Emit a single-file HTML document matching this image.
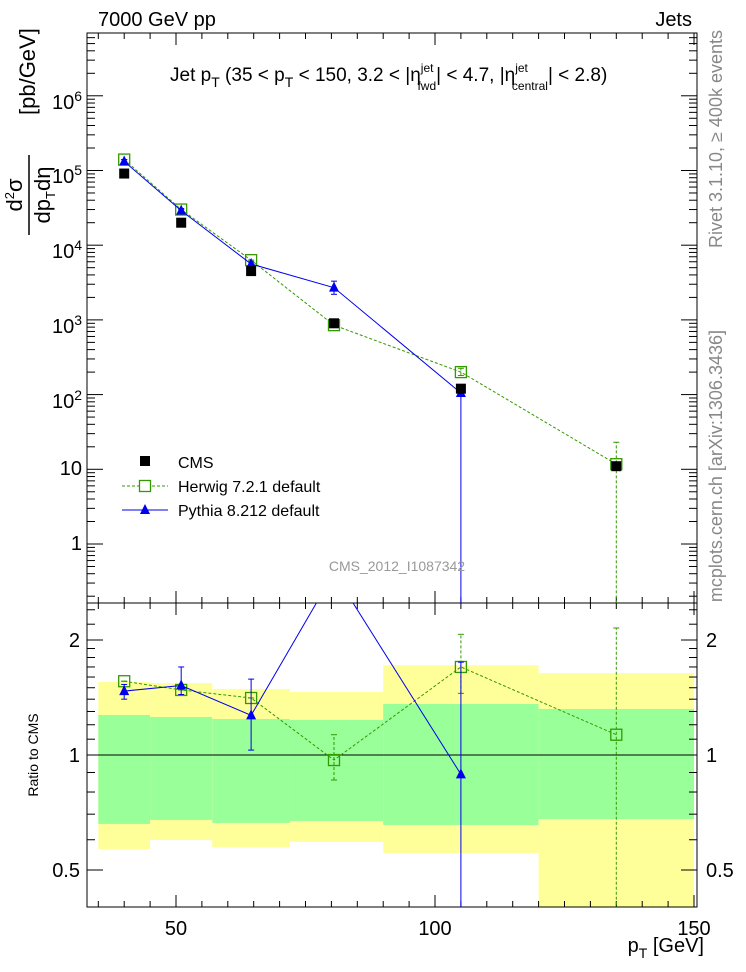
<!DOCTYPE html>
<html><head><meta charset="utf-8"><style>
body{margin:0;background:#fff;}
svg{display:block;font-family:"Liberation Sans",sans-serif;}
</style></head><body>
<svg id="c" width="746" height="972" viewBox="0 0 746 972"></svg>
<script>
const binEdges=[35,45,57,72,90,120,150];
const xCenters=[40,51,64.5,80.5,105,135];
const cmsVals=[91000,20000,4500,900,120,11];
const herwigVals=[140000,30000,6300,850,200,11.7];
const herwigErrLo=[140000,30000,6300,850,180,0.01];
const herwigErrHi=[140000,30000,6300,850,225,23];
const pythiaVals=[132000,29000,5600,2700,105,null];
const pythiaErrLo=[125000,28000,5200,2200,0.01,null];
const pythiaErrHi=[140000,31000,6000,3300,110,null];
const herwigRatio=[1.56,1.48,1.41,0.97,1.70,1.13];
const herwigRatioLo=[1.56,1.48,1.41,0.86,1.45,0.3];
const herwigRatioHi=[1.56,1.48,1.41,1.13,2.07,2.15];
const pythiaRatio=[1.47,1.52,1.27,3.0,0.89,null];
const pythiaRatioLo=[1.40,1.44,1.03,3.0,0.3,null];
const pythiaRatioHi=[1.53,1.70,1.58,3.0,1.75,null];
const greenHi=[1.273,1.257,1.242,1.235,1.36,1.32];
const greenLo=[0.66,0.676,0.664,0.672,0.656,0.68];
const yellowHi=[1.553,1.543,1.489,1.462,1.719,1.639];
const yellowLo=[0.567,0.599,0.574,0.592,0.554,0.3];
const xTicks=[50,100,150];
const yMainTicks=[1,10,100,1000,10000,100000,1000000];
const yMainLabels=["1","10","10<sup>2</sup>","10<sup>3</sup>","10<sup>4</sup>","10<sup>5</sup>","10<sup>6</sup>"];
const yRatioTicks=[0.5,1,2];

const L=87,R=697,T=33,MB=603,RB=907;
const X=v=>176+(v-50)*5.18;
const Y=v=>MB-(Math.log10(v)+0.79)*74.7;
const YR=v=>755-Math.log10(v)*382;
const NS="http://www.w3.org/2000/svg";
const svg=document.getElementById('c');
function mk(tag,attrs,parent){const e=document.createElementNS(NS,tag);for(const k in attrs)e.setAttribute(k,attrs[k]);(parent||svg).appendChild(e);return e;}
function txt(x,y,s,size,anchor,fill,parent){const e=mk('text',{x:x,y:y,'font-size':size,'text-anchor':anchor||'start',fill:fill||'#000'},parent);e.innerHTML=s;return e;}

const bands=mk('g',{});


const clipR=mk('clipPath',{id:'cr'});mk('rect',{x:L,y:MB,width:R-L,height:RB-MB},clipR);
const clipM=mk('clipPath',{id:'cm'});mk('rect',{x:L,y:T,width:R-L,height:MB-T},clipM);
bands.setAttribute('clip-path','url(#cr)');
for(let i=0;i<6;i++){
  const x1=X(binEdges[i]),x2=X(binEdges[i+1]);
  const y=mk('rect',{x:x1,y:YR(yellowHi[i]),width:x2-x1,height:YR(yellowLo[i])-YR(yellowHi[i]),fill:'#ffff99'},bands);
  
  
  const g=mk('rect',{x:x1,y:YR(greenHi[i]),width:x2-x1,height:YR(greenLo[i])-YR(greenHi[i]),fill:'#99ff99'},bands);
  
  
}
mk('line',{x1:L,x2:R,y1:YR(1),y2:YR(1),stroke:'#000','stroke-width':1});

mk('rect',{x:L,y:T,width:R-L,height:MB-T,fill:'none',stroke:'#000','stroke-width':1});
mk('rect',{x:L,y:MB,width:R-L,height:RB-MB,fill:'none',stroke:'#000','stroke-width':1});

for(let v=35;v<=150;v+=5){
  const big=v%50===0,len=big?12:6,x=X(v);
  for(const [yb,dir] of [[MB,-1],[T,1],[RB,-1],[MB,1]])
    mk('line',{x1:x,x2:x,y1:yb,y2:yb+dir*len,stroke:'#000','stroke-width':1});
}
xTicks.forEach(v=>{const t=txt(X(v),935,String(v),20,'middle');});
for(let d=-1;d<=6;d++)for(let m=1;m<=9;m++){
  const v=m*Math.pow(10,d),y=Y(v);if(y<T||y>MB)continue;
  const len=m===1?16:8;
  mk('line',{x1:L,x2:L+len,y1:y,y2:y,stroke:'#000'});
  mk('line',{x1:R,x2:R-len,y1:y,y2:y,stroke:'#000'});
}
yMainTicks.forEach((v,i)=>{
  const t=mk('foreignObject',{x:20,y:Y(v)-14,width:62,height:30});
  
  
  t.innerHTML='<div xmlns="http://www.w3.org/1999/xhtml" style="font:20px \'Liberation Sans\',sans-serif;text-align:right;line-height:28px">'+yMainLabels[i].replace('<sup>','<sup style="font-size:14px;vertical-align:8px">')+'</div>';
});
const rminor=[0.4,0.5,0.6,0.7,0.8,0.9,1,1.1,1.2,1.3,1.4,1.5,1.6,1.7,1.8,1.9,2,2.2,2.4];
rminor.forEach(v=>{const y=YR(v);const len=(v===0.5||v===1||v===2)?16:8;
  mk('line',{x1:L,x2:L+len,y1:y,y2:y,stroke:'#000'});mk('line',{x1:R,x2:R-len,y1:y,y2:y,stroke:'#000'});});
yRatioTicks.forEach(v=>{
  const a=txt(80,YR(v)+7,String(v),20,'end');
  const b=txt(706,YR(v)+7,String(v),20,'start');
});

const gm=mk('g',{'clip-path':'url(#cm)'});
function series(vals,lo,hi,yf,color,dash,marker,parent,name){
  const g=mk('g',{},parent);
  
  
  let pts=[];
  vals.forEach((v,i)=>{if(v==null)return;pts.push(X(xCenters[i])+','+yf(v));});
  if(color!=='#000')mk('polyline',{points:pts.join(' '),fill:'none',stroke:color,'stroke-width':1,'stroke-dasharray':dash||'none'},g);
  vals.forEach((v,i)=>{if(v==null)return;const x=X(xCenters[i]),y=yf(v);
    if(lo&&hi&&lo[i]!=null){mk('line',{x1:x,x2:x,y1:yf(lo[i]),y2:yf(hi[i]),stroke:color,'stroke-dasharray':dash||'none'},g);
      [lo[i],hi[i]].forEach(e=>mk('line',{x1:x-3,x2:x+3,y1:yf(e),y2:yf(e),stroke:color},g));}
    let m;
    if(marker==='sq')m=mk('rect',{x:x-5,y:y-5,width:10,height:10,fill:'#000'},g);
    else if(marker==='osq')m=mk('rect',{x:x-5.5,y:y-5.5,width:11,height:11,fill:'none',stroke:color,'stroke-width':1.3},g);
    else m=mk('polygon',{points:`${x},${y-6} ${x-5},${y+4} ${x+5},${y+4}`,fill:color},g);
    
    
  });
}
series(herwigVals,herwigErrLo,herwigErrHi,Y,'#339900','3,2','osq',gm,'herwig-series');
series(pythiaVals,pythiaErrLo,pythiaErrHi,Y,'#0000ee',null,'tri',gm,'pythia-series');
series(cmsVals,null,null,Y,'#000',null,'sq',gm,'cms-series');
const gr=mk('g',{'clip-path':'url(#cr)'});
series(herwigRatio,herwigRatioLo,herwigRatioHi,YR,'#339900','3,2','osq',gr,'herwig-ratio-series');
series(pythiaRatio,pythiaRatioLo,pythiaRatioHi,YR,'#0000ee',null,'tri',gr,'pythia-ratio-series');

const lg=mk('g',{});


mk('rect',{x:140,y:456,width:10,height:10,fill:'#000'},lg);
txt(178,468,'CMS',16,'start','#000',lg);
mk('line',{x1:122,x2:168,y1:486,y2:486,stroke:'#339900','stroke-dasharray':'3,2'},lg);
mk('rect',{x:139.5,y:480.5,width:11,height:11,fill:'#fff',stroke:'#339900','stroke-width':1.3},lg);
txt(178,492,'Herwig 7.2.1 default',16,'start','#000',lg);
mk('line',{x1:122,x2:168,y1:510,y2:510,stroke:'#0000ee'},lg);
mk('polygon',{points:'145,504 140,514 150,514',fill:'#0000ee'},lg);
txt(178,516,'Pythia 8.212 default',16,'start','#000',lg);

let t;
t=txt(98,26,'7000 GeV pp',20);
t=txt(692,26,'Jets',20,'end');
t=txt(170,81,'Jet p<tspan font-size="14" dy="6">T</tspan><tspan dy="-6"> (35 &lt; p</tspan><tspan font-size="14" dy="6">T</tspan><tspan dy="-6"> &lt; 150, 3.2 &lt; |η</tspan><tspan font-size="12" dy="-9">jet</tspan><tspan font-size="12" dx="-16" dy="18">fwd</tspan><tspan dy="-9">| &lt; 4.7, |η</tspan><tspan font-size="12" dy="-9">jet</tspan><tspan font-size="12" dx="-16" dy="18">central</tspan><tspan dy="-9">| &lt; 2.8)</tspan>',19);

t=txt(397,571,'CMS_2012_I1087342',14,'middle','#999');
t=txt(0,0,'Rivet 3.1.10, ≥ 400k events',18,'end','#888');t.setAttribute('transform','translate(722,30) rotate(-90)');
t=txt(0,0,'mcplots.cern.ch [arXiv:1306.3436]',18,'end','#888');t.setAttribute('transform','translate(722,330) rotate(-90)');
t=txt(0,0,'Ratio to CMS',14,'middle');t.setAttribute('transform','translate(38,755) rotate(-90)');
t=txt(704,952,'p<tspan font-size="14" dy="6">T</tspan><tspan dy="-6"> [GeV]</tspan>',20,'end');
const yt=mk('g',{transform:'translate(28,195) rotate(-90)'});


txt(0,-6,'d<tspan font-size="13" dy="-8">2</tspan><tspan dy="8">σ</tspan>',22,'middle','#000',yt);
mk('line',{x1:-40,x2:40,y1:1,y2:1,stroke:'#000','stroke-width':1.5},yt);
txt(0,22,'dp<tspan font-size="13" dy="5">T</tspan><tspan dy="-5">dη</tspan>',22,'middle','#000',yt);
txt(80,7,'[pb/GeV]',22,'start','#000',yt);
</script>
</body></html>
